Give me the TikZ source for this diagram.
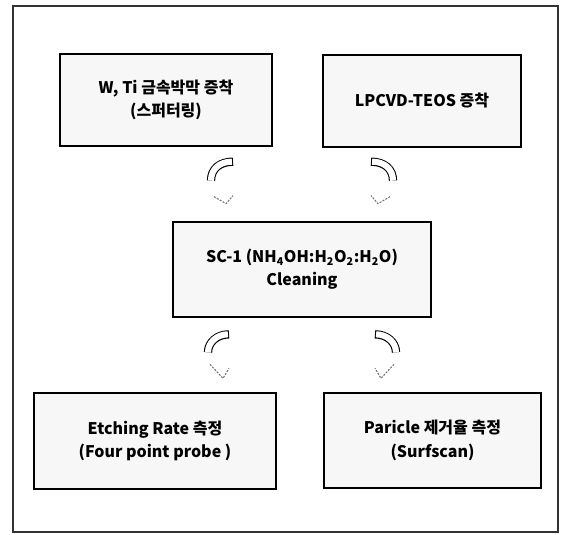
\documentclass[tikz,border=0pt]{standalone}
\usepackage{fontspec}
\setmainfont{Noto Sans CJK KR}
\usepackage{tikz}
\usetikzlibrary{calc}

\begin{document}
\begin{tikzpicture}[
    x=0.75pt, y=-0.75pt,
    box/.style={draw, line width=2pt, fill=gray!6, inner sep=2pt,
                font=\bfseries\fontsize{12}{17.5}\selectfont, align=center},
    bandout/.style={draw=black, line width=6.2pt},
    bandin/.style={draw=white, line width=4.6pt, shorten <=0.8pt},
    head/.style={draw=black!55, line width=0.8pt, dash pattern=on 1.5pt off 1pt,
                 line join=round}
  ]
  \useasboundingbox (0,0) rectangle (561,535);
  \draw[line width=0.9pt, black!80] (13,6) rectangle (558,532);

  \node[box, minimum width=159pt,    minimum height=69pt]    (wti)  at (166,100)
    {W, Ti 금속박막 증착\\(스퍼터링)};
  \node[box, minimum width=148.5pt,  minimum height=69pt]    (teos) at (422,101)
    {LPCVD-TEOS 증착};
  \node[box, minimum width=193.5pt,  minimum height=71.25pt] (sc1)  at (302,269.5)
    {SC-1 (NH\textsubscript{4}OH:H\textsubscript{2}O\textsubscript{2}:H\textsubscript{2}O)\\Cleaning};
  \node[box, minimum width=181.5pt,  minimum height=72pt]    (etch) at (155,441)
    {Etching Rate 측정\\(Four point probe )};
  \node[box, minimum width=162.75pt, minimum height=71.25pt] (part) at (432.5,440.5)
    {Paricle 제거율 측정\\(Surfscan)};

  % wti -> sc1
  \draw[bandout] ($(sc1.north)+(-69,-59)$) .. controls ($(sc1.north)+(-82,-59)$) and ($(sc1.north)+(-91,-52)$) .. ($(sc1.north)+(-91,-40)$);
  \draw[bandin]  ($(sc1.north)+(-69,-59)$) .. controls ($(sc1.north)+(-82,-59)$) and ($(sc1.north)+(-91,-52)$) .. ($(sc1.north)+(-91,-40)$);
  \draw[head] ($(sc1.north)+(-88,-24)$) -- ($(sc1.north)+(-76,-17)$) -- ($(sc1.north)+(-69,-25)$);

  % teos -> sc1
  \draw[bandout] ($(sc1.north)+(69,-59)$) .. controls ($(sc1.north)+(82,-59)$) and ($(sc1.north)+(91,-52)$) .. ($(sc1.north)+(91,-40)$);
  \draw[bandin]  ($(sc1.north)+(69,-59)$) .. controls ($(sc1.north)+(82,-59)$) and ($(sc1.north)+(91,-52)$) .. ($(sc1.north)+(91,-40)$);
  \draw[head] ($(sc1.north)+(88,-24)$) -- ($(sc1.north)+(76,-17)$) -- ($(sc1.north)+(69,-25)$);

  % sc1 -> etch
  \draw[bandout] ($(sc1.south)+(-73,16)$) .. controls ($(sc1.south)+(-85,16)$) and ($(sc1.south)+(-94,24)$) .. ($(sc1.south)+(-94,34)$);
  \draw[bandin]  ($(sc1.south)+(-73,16)$) .. controls ($(sc1.south)+(-85,16)$) and ($(sc1.south)+(-94,24)$) .. ($(sc1.south)+(-94,34)$);
  \draw[head] ($(sc1.south)+(-92,46)$) -- ($(sc1.south)+(-79,60)$) -- ($(sc1.south)+(-73,50)$);

  % sc1 -> part
  \draw[bandout] ($(sc1.south)+(73,16)$) .. controls ($(sc1.south)+(85,16)$) and ($(sc1.south)+(94,24)$) .. ($(sc1.south)+(94,34)$);
  \draw[bandin]  ($(sc1.south)+(73,16)$) .. controls ($(sc1.south)+(85,16)$) and ($(sc1.south)+(94,24)$) .. ($(sc1.south)+(94,34)$);
  \draw[head] ($(sc1.south)+(92,46)$) -- ($(sc1.south)+(79,60)$) -- ($(sc1.south)+(73,50)$);
\end{tikzpicture}
\end{document}
